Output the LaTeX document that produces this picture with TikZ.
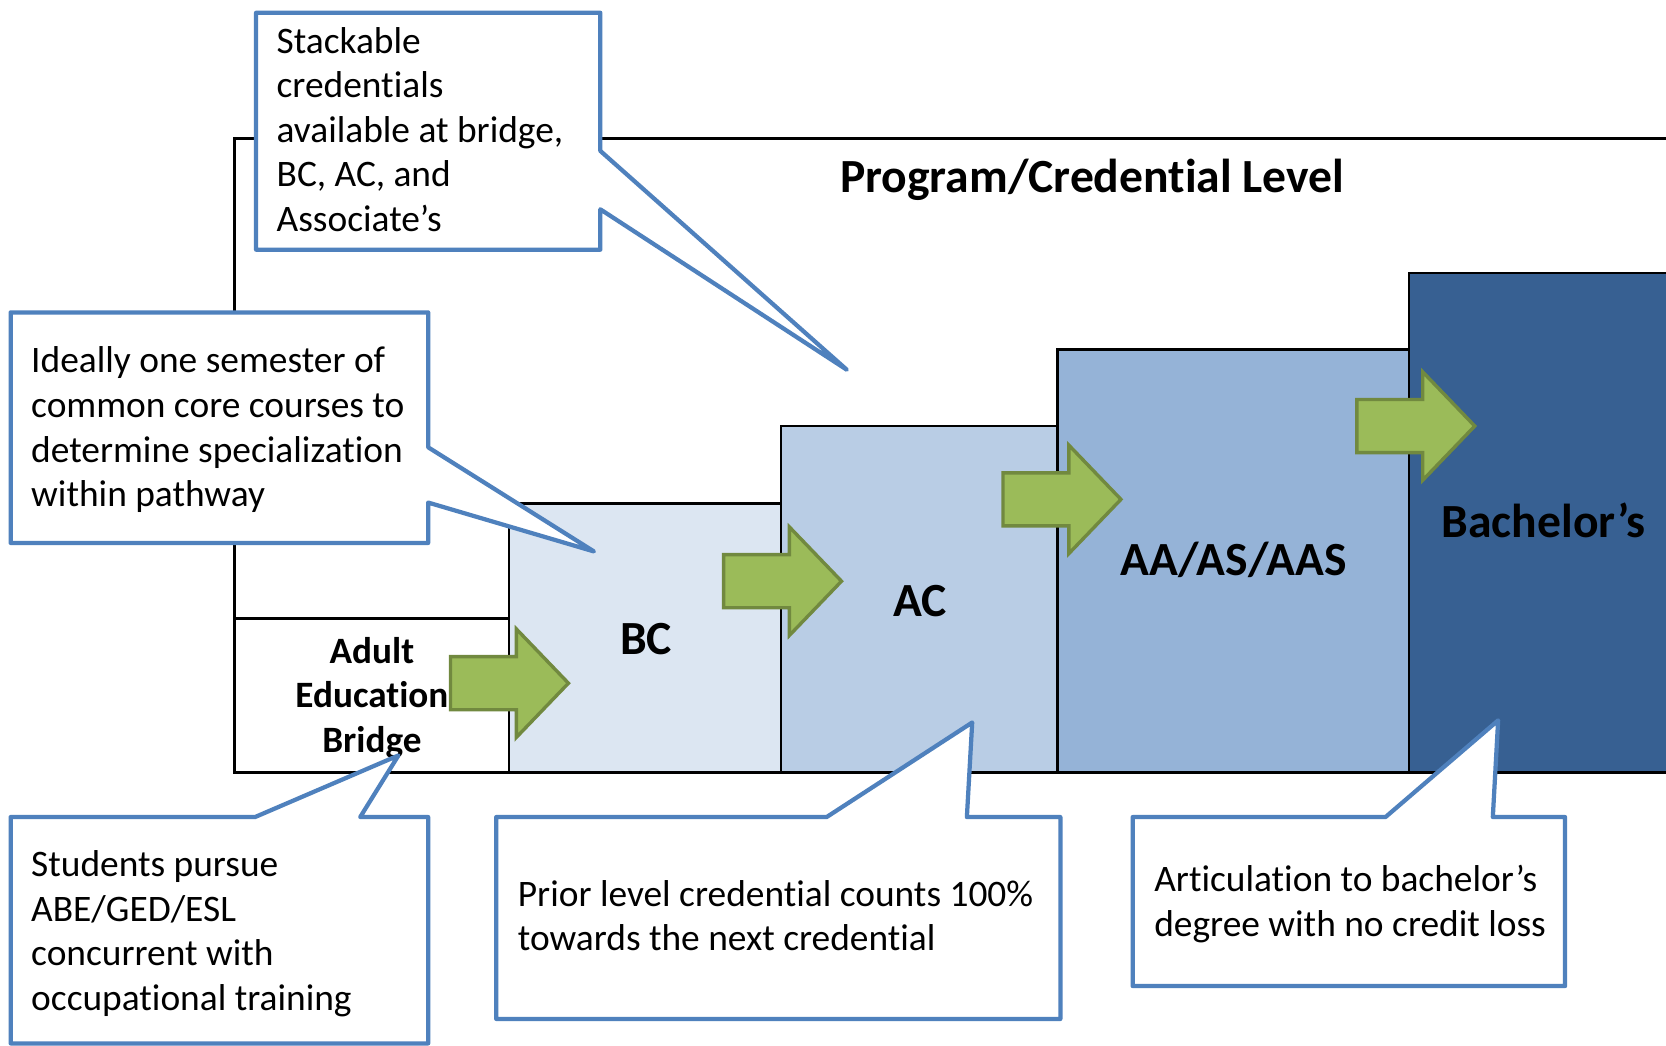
\documentclass[tikz,border=0pt]{standalone}
\usepackage{fontspec}
\setmainfont{Carlito}[Ligatures=NoCommon]
\definecolor{bcfill}{HTML}{DCE6F2}
\definecolor{acfill}{HTML}{B9CDE5}
\definecolor{aafill}{HTML}{95B3D7}
\definecolor{bafill}{HTML}{376092}
\definecolor{callblue}{HTML}{4F81BD}
\definecolor{arrfill}{HTML}{9BBB59}
\definecolor{arrdraw}{HTML}{71893F}
\begin{document}
\begin{tikzpicture}[x=0.5pt,y=-0.5pt,
  frame/.style={draw=black,line width=1.3pt},
  callout/.style={draw=callblue,fill=white,line width=2pt,line join=round},
  blockarrow/.style={draw=arrdraw,fill=arrfill,line width=1.6pt,line join=miter},
  txt/.style={inner sep=0pt,font=\fontsize{17.6}{21}\selectfont,anchor=base west},
  lbl/.style={inner sep=0pt,font=\fontsize{22.4}{26}\selectfont\bfseries,anchor=base},
  sublbl/.style={inner sep=0pt,font=\fontsize{17.5}{21}\selectfont\bfseries,anchor=base},
]
\clip (0,0) rectangle (1568,984);
\fill[white] (0,0) rectangle (1568,984);

% outer frame and level boxes
\draw[frame] (1590,130) -| (221,727);
\draw[frame] (221,582) rectangle (479,727);
\draw[frame,fill=bcfill] (479,474) rectangle (735,727);
\draw[frame,fill=acfill] (735,401) rectangle (995,727);
\draw[frame,fill=aafill] (995,329) rectangle (1326,727);
\draw[frame,fill=bafill] (1326,257) rectangle (1600,727);

% labels
\node[lbl] (title) at (1028,181) {Program/Credential Level};
\node[lbl] (bc) at (608,616) {BC};
\node[lbl] (ac) at (866,580) {AC};
\node[lbl] (aa) at (1161,542) {AA/AS/AAS};
\node[lbl] (ba) at (1453,506) {Bachelor’s};
\node[sublbl] (ae1) at (350,624) {Adult};
\node[sublbl] (ae2) at (350,666) {Education};
\node[sublbl] (ae3) at (350,708) {Bridge};

% block arrows
\foreach \ax/\ay [count=\i] in {424/643, 681/547, 944/470, 1277/401}{
  \draw[blockarrow] (\ax,\ay-25) -- ++(62,0) -- ++(0,-26) -- (\ax+111,\ay)
    -- (\ax+62,\ay+51) -- ++(0,-26) -- (\ax,\ay+25) -- cycle;
}

% callouts
\draw[callout] (241,12) -- (565,12) -- (565,142) -- (797,348) -- (565,197) -- (565,235) -- (241,235) -- cycle;
\draw[callout] (10,294) -- (403,294) -- (403,421) -- (559,519) -- (403,473) -- (403,511) -- (10,511) -- cycle;
\draw[callout] (10,769) -- (240,769) -- (375,711) -- (339,769) -- (403,769) -- (403,982) -- (10,982) -- cycle;
\draw[callout] (467,769) -- (778,769) -- (915,680) -- (910,769) -- (998,769) -- (998,959) -- (467,959) -- cycle;
\draw[callout] (1066,769) -- (1304,769) -- (1410,678) -- (1405,769) -- (1473,769) -- (1473,928) -- (1066,928) -- cycle;

% callout texts
\foreach \t [count=\i] in {Stackable, credentials, {available at bridge,}, {BC, AC, and}, Associate’s}
  \node[txt,name=s\i] at (260,8+42*\i) {\t};
\foreach \t [count=\i] in {Ideally one semester of, common core courses to, determine specialization, within pathway}
  \node[txt,name=d\i] at (29,309+42*\i) {\t};
\foreach \t [count=\i] in {Students pursue, ABE/GED/ESL, concurrent with, occupational training}
  \node[txt,name=p\i] at (29,783+42*\i) {\t};
\foreach \t [count=\i] in {Prior level credential counts 100\%, towards the next credential}
  \node[txt,name=r\i] at (487,811+42*\i) {\t};
\foreach \t [count=\i] in {Articulation to bachelor’s, degree with no credit loss}
  \node[txt,name=a\i] at (1086,797+42*\i) {\t};
\end{tikzpicture}
\end{document}
